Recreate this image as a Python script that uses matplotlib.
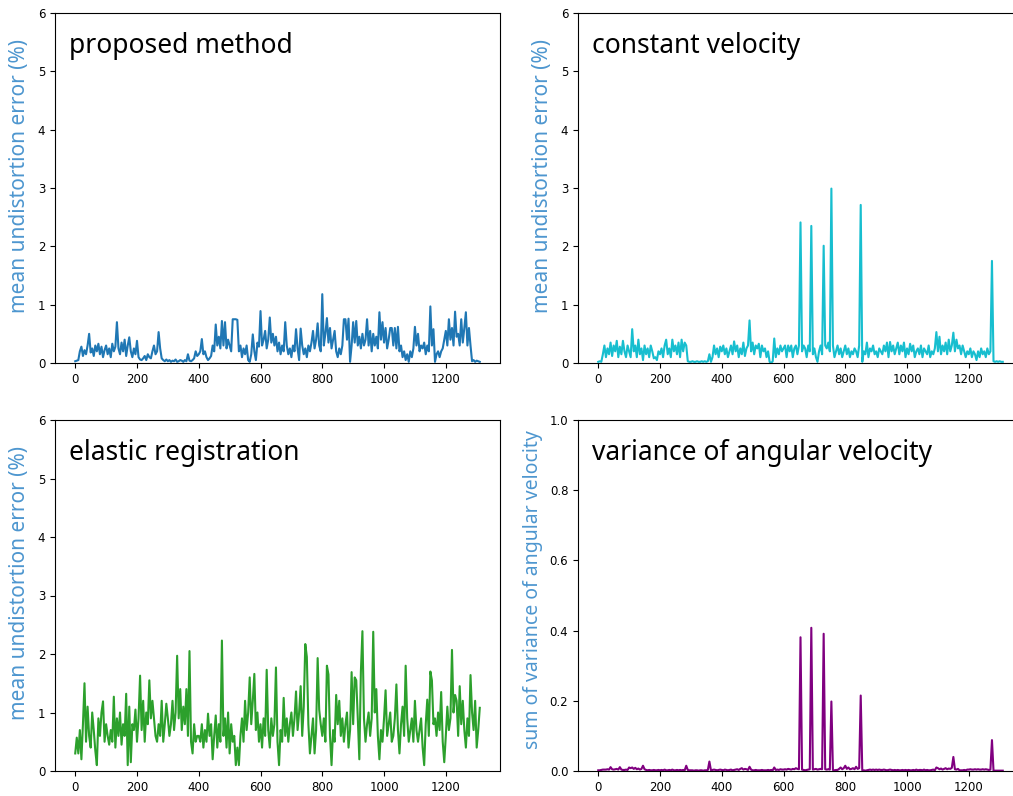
import numpy as np
import matplotlib
matplotlib.use("Agg")
import matplotlib.pyplot as plt

# ---- data (sampled every 5 frames, frame 0 .. 1310) ----
frame_step = 5

proposed_method = [
    0.03, 0.04, 0.05, 0.2, 0.28, 0.12, 0.22, 0.15, 0.3, 0.5, 0.18, 0.25, 0.12, 0.3, 0.2, 0.33, 0.15, 0.28, 0.1, 0.22,
    0.3, 0.15, 0.25, 0.1, 0.33, 0.2, 0.28, 0.7, 0.25, 0.15, 0.35, 0.2, 0.4, 0.12, 0.3, 0.44, 0.2, 0.1, 0.25, 0.15,
    0.38, 0.1, 0.06, 0.05, 0.08, 0.12, 0.05, 0.15, 0.1, 0.08, 0.2, 0.3, 0.15, 0.2, 0.53, 0.25, 0.08, 0.05, 0.03, 0.06,
    0.03, 0.05, 0.02, 0.04, 0.03, 0.06, 0.02, 0.03, 0.05, 0.04, 0.02, 0.05, 0.03, 0.15, 0.04, 0.03, 0.05, 0.08, 0.2, 0.12,
    0.15, 0.2, 0.41, 0.15, 0.2, 0.1, 0.05, 0.08, 0.12, 0.3, 0.2, 0.66, 0.3, 0.45, 0.25, 0.72, 0.3, 0.7, 0.25, 0.4,
    0.3, 0.2, 0.75, 0.75, 0.75, 0.74, 0.2, 0.3, 0.1, 0.25, 0.15, 0.3, 0.05, 0.02, 0.15, 0.49, 0.2, 0.05, 0.35, 0.28,
    0.89, 0.3, 0.4, 0.55, 0.25, 0.4, 0.78, 0.35, 0.5, 0.3, 0.45, 0.2, 0.35, 0.15, 0.3, 0.2, 0.7, 0.3, 0.15, 0.25,
    0.1, 0.3, 0.2, 0.58, 0.25, 0.05, 0.59, 0.3, 0.15, 0.25, 0.1, 0.3, 0.2, 0.35, 0.55, 0.25, 0.4, 0.68, 0.3, 0.2,
    1.18, 0.3, 0.5, 0.77, 0.35, 0.6, 0.25, 0.4, 0.55, 0.2, 0.1, 0.25, 0.15, 0.3, 0.75, 0.75, 0.4, 0.76, 0.02, 0.3,
    0.7, 0.35, 0.72, 0.3, 0.45, 0.25, 0.5, 0.3, 0.4, 0.75, 0.3, 0.55, 0.2, 0.5, 0.3, 0.45, 0.25, 0.87, 0.4, 0.7,
    0.35, 0.6, 0.25, 0.4, 0.6, 0.6, 0.3, 0.6, 0.25, 0.62, 0.2, 0.3, 0.1, 0.2, 0.05, 0.15, 0.02, 0.2, 0.1, 0.25,
    0.62, 0.3, 0.5, 0.2, 0.3, 0.25, 0.35, 0.15, 0.3, 0.2, 0.97, 0.3, 0.58, 0.02, 0.15, 0.2, 0.1, 0.2, 0.25, 0.4,
    0.55, 0.3, 0.75, 0.4, 0.6, 0.3, 0.88, 0.45, 0.5, 0.3, 0.75, 0.35, 0.6, 0.87, 0.3, 0.6, 0.3, 0.03, 0.05, 0.02,
    0.04, 0.03, 0.02,
]

constant_velocity = [
    0.02, 0.03, 0.02, 0.15, 0.3, 0.1, 0.25, 0.15, 0.35, 0.12, 0.3, 0.2, 0.38, 0.1, 0.28, 0.15, 0.38, 0.2, 0.1, 0.3,
    0.2, 0.1, 0.58, 0.2, 0.3, 0.1, 0.4, 0.15, 0.25, 0.05, 0.3, 0.15, 0.25, 0.1, 0.3, 0.2, 0.08, 0.1, 0.05, 0.2,
    0.15, 0.25, 0.1, 0.3, 0.4, 0.15, 0.25, 0.1, 0.4, 0.2, 0.3, 0.15, 0.35, 0.1, 0.4, 0.2, 0.35, 0.3, 0.03, 0.02,
    0.02, 0.03, 0.02, 0.02, 0.03, 0.02, 0.02, 0.03, 0.02, 0.03, 0.02, 0.03, 0.15, 0.02, 0.1, 0.3, 0.15, 0.25, 0.1, 0.28,
    0.2, 0.3, 0.15, 0.25, 0.1, 0.2, 0.3, 0.15, 0.37, 0.2, 0.3, 0.1, 0.25, 0.15, 0.35, 0.12, 0.25, 0.3, 0.73, 0.2,
    0.35, 0.15, 0.3, 0.25, 0.33, 0.1, 0.3, 0.2, 0.25, 0.1, 0.2, 0.02, 0.0, 0.03, 0.42, 0.1, 0.25, 0.15, 0.3, 0.2,
    0.25, 0.3, 0.1, 0.3, 0.2, 0.3, 0.1, 0.25, 0.3, 0.15, 0.3, 2.41, 0.2, 0.3, 0.25, 0.1, 0.3, 0.2, 2.35, 0.15,
    0.25, 0.1, 0.02, 0.2, 0.3, 0.15, 2.01, 0.3, 0.25, 0.35, 0.2, 2.99, 0.3, 0.1, 0.2, 0.3, 0.15, 0.25, 0.1, 0.2,
    0.3, 0.15, 0.25, 0.1, 0.2, 0.15, 0.25, 0.2, 0.1, 0.3, 2.71, 0.02, 0.2, 0.15, 0.35, 0.1, 0.25, 0.2, 0.3, 0.15,
    0.2, 0.1, 0.25, 0.2, 0.15, 0.3, 0.2, 0.35, 0.1, 0.36, 0.2, 0.3, 0.15, 0.25, 0.35, 0.15, 0.3, 0.2, 0.35, 0.1,
    0.25, 0.15, 0.33, 0.2, 0.3, 0.1, 0.2, 0.25, 0.15, 0.3, 0.1, 0.25, 0.2, 0.15, 0.3, 0.1, 0.2, 0.15, 0.25, 0.53,
    0.2, 0.45, 0.15, 0.3, 0.2, 0.35, 0.15, 0.4, 0.2, 0.3, 0.52, 0.2, 0.4, 0.25, 0.3, 0.15, 0.3, 0.2, 0.1, 0.2,
    0.15, 0.25, 0.1, 0.2, 0.15, 0.05, 0.2, 0.1, 0.25, 0.15, 0.2, 0.1, 0.25, 0.15, 0.2, 1.75, 0.03, 0.02, 0.03, 0.02,
    0.03, 0.02, 0.02,
]

elastic_registration = [
    0.3, 0.57, 0.3, 0.7, 0.2, 0.8, 1.5, 0.5, 1.1, 0.6, 0.4, 1.0, 0.7, 0.35, 0.1, 0.9, 0.6, 1.0, 1.19, 0.5,
    0.8, 0.6, 0.45, 0.7, 0.5, 1.27, 0.4, 0.9, 0.6, 1.0, 0.45, 0.8, 0.6, 1.32, 0.1, 1.1, 0.15, 0.8, 0.7, 1.05,
    0.5, 0.9, 1.63, 0.7, 1.2, 0.5, 1.0, 0.8, 1.55, 0.9, 1.2, 0.9, 0.6, 0.5, 0.8, 0.6, 1.2, 0.5, 0.8, 1.15,
    0.9, 0.6, 0.8, 1.2, 0.7, 1.0, 1.97, 0.9, 1.4, 0.7, 1.1, 0.8, 1.4, 0.6, 2.05, 0.5, 0.3, 0.8, 0.5, 0.6,
    0.6, 0.5, 0.8, 0.4, 0.7, 0.5, 0.98, 0.6, 0.8, 0.2, 0.6, 0.95, 0.4, 0.8, 0.5, 2.23, 0.6, 0.9, 0.4, 1.0,
    0.3, 0.8, 0.5, 0.6, 0.1, 0.4, 0.1, 0.6, 0.9, 0.5, 1.2, 0.7, 1.0, 1.6, 0.8, 1.2, 1.66, 0.7, 1.0, 0.5,
    0.8, 0.4, 0.9, 0.6, 1.73, 0.7, 0.4, 0.9, 0.6, 0.8, 1.77, 0.5, 0.1, 0.7, 0.5, 1.25, 0.6, 0.9, 0.5, 0.8,
    1.0, 0.6, 0.9, 1.36, 0.7, 1.0, 1.45, 0.6, 1.1, 2.17, 1.95, 0.8, 0.3, 0.6, 0.9, 0.3, 0.7, 1.93, 1.05, 0.8,
    0.6, 0.9, 0.5, 1.8, 1.65, 0.6, 0.1, 0.7, 0.5, 1.3, 0.8, 1.2, 0.6, 0.9, 0.5, 0.8, 1.0, 0.4, 0.7, 1.69,
    0.8, 1.6, 1.55, 0.9, 0.2, 1.7, 2.39, 0.9, 0.5, 0.8, 1.0, 0.6, 0.9, 2.38, 1.0, 1.4, 0.6, 0.2, 0.7, 0.5,
    0.9, 1.38, 0.6, 0.8, 1.0, 0.5, 0.6, 0.9, 1.48, 0.7, 0.3, 0.8, 1.1, 0.6, 1.8, 0.9, 0.5, 0.7, 0.9, 0.5,
    1.2, 0.7, 0.5, 0.7, 0.9, 0.4, 0.1, 0.8, 1.22, 0.6, 1.7, 1.55, 0.8, 0.9, 0.6, 1.0, 0.7, 1.35, 0.5, 0.15,
    0.6, 1.1, 0.7, 0.9, 2.07, 1.0, 1.3, 1.2, 0.6, 1.45, 0.8, 1.2, 0.7, 0.4, 0.9, 0.6, 1.64, 1.0, 0.7, 1.2,
    0.4, 0.7, 1.08,
]

angular_velocity_variance = [
    0.002, 0.002, 0.003, 0.004, 0.004, 0.004, 0.005, 0.004, 0.011, 0.005, 0.004, 0.005, 0.006, 0.004, 0.011, 0.004, 0.003, 0.003, 0.004, 0.003,
    0.01, 0.008, 0.01, 0.006, 0.009, 0.005, 0.007, 0.004, 0.006, 0.015, 0.005, 0.003, 0.002, 0.003, 0.002, 0.002, 0.003, 0.002, 0.002, 0.003,
    0.002, 0.003, 0.002, 0.004, 0.002, 0.002, 0.003, 0.002, 0.004, 0.002, 0.002, 0.003, 0.002, 0.003, 0.002, 0.003, 0.002, 0.015, 0.003, 0.002,
    0.002, 0.002, 0.001, 0.002, 0.002, 0.001, 0.002, 0.002, 0.001, 0.002, 0.002, 0.003, 0.027, 0.002, 0.003, 0.004, 0.003, 0.002, 0.003, 0.004,
    0.003, 0.002, 0.004, 0.003, 0.002, 0.003, 0.004, 0.002, 0.003, 0.004, 0.005, 0.003, 0.006, 0.008, 0.004, 0.006, 0.005, 0.003, 0.012, 0.004,
    0.002, 0.002, 0.003, 0.002, 0.002, 0.002, 0.003, 0.002, 0.002, 0.002, 0.003, 0.002, 0.003, 0.002, 0.01, 0.003, 0.004, 0.003, 0.005, 0.004,
    0.004, 0.005, 0.004, 0.006, 0.005, 0.004, 0.006, 0.005, 0.008, 0.006, 0.005, 0.381, 0.004, 0.003, 0.002, 0.003, 0.004, 0.005, 0.408, 0.004,
    0.005, 0.006, 0.004, 0.005, 0.006, 0.005, 0.391, 0.005, 0.004, 0.005, 0.004, 0.198, 0.003, 0.002, 0.003, 0.003, 0.006, 0.01, 0.005, 0.008,
    0.015, 0.006, 0.01, 0.005, 0.006, 0.008, 0.005, 0.012, 0.006, 0.008, 0.215, 0.002, 0.002, 0.001, 0.002, 0.003, 0.004, 0.003, 0.004, 0.003,
    0.004, 0.003, 0.004, 0.003, 0.003, 0.004, 0.003, 0.002, 0.003, 0.004, 0.003, 0.002, 0.003, 0.002, 0.003, 0.002, 0.002, 0.003, 0.002, 0.003,
    0.002, 0.003, 0.002, 0.002, 0.003, 0.002, 0.004, 0.002, 0.003, 0.003, 0.002, 0.004, 0.002, 0.003, 0.002, 0.002, 0.003, 0.004, 0.002, 0.01,
    0.008, 0.005, 0.007, 0.004, 0.006, 0.008, 0.005, 0.007, 0.006, 0.009, 0.04, 0.005, 0.004, 0.006, 0.002, 0.002, 0.002, 0.003, 0.002, 0.004,
    0.004, 0.005, 0.004, 0.004, 0.005, 0.004, 0.005, 0.004, 0.004, 0.005, 0.004, 0.005, 0.004, 0.003, 0.004, 0.088, 0.001, 0.001, 0.001, 0.001,
    0.001, 0.001, 0.001,
]

titles = ["proposed method", "constant velocity", "elastic registration", "variance of angular velocity"]
ylabels = ["mean undistortion error (%)", "mean undistortion error (%)",
           "mean undistortion error (%)", "sum of variance of angular velocity"]
series = [proposed_method, constant_velocity, elastic_registration, angular_velocity_variance]
colors = ["#1f77b4", "#17becf", "#2ca02c", "#800080"]
ylims = [(0, 6), (0, 6), (0, 6), (0, 1.0)]
xticks = [0, 200, 400, 600, 800, 1000, 1200]

W, H = 1013, 796
fig = plt.figure(figsize=(W / 100, H / 100), dpi=100)

# axes boxes in pixels: left, top, right, bottom
boxes = [(55, 13, 500, 363), (578, 13, 1023, 363),
         (55, 420, 500, 771), (578, 420, 1023, 771)]

label_color = "#4d96cf"

for i in range(4):
    l, t, r, b = boxes[i]
    ax = fig.add_axes([l / W, 1 - b / H, (r - l) / W, (b - t) / H])
    y = np.array(series[i])
    x = np.arange(len(y)) * frame_step
    ax.plot(x, y, color=colors[i], lw=1.5)
    ax.set_ylim(*ylims[i])
    ax.set_xticks(xticks)
    if i == 3:
        ax.set_yticks([0, 0.2, 0.4, 0.6, 0.8, 1.0])
    ax.tick_params(labelsize=8.5)
    fs = 15 if i < 3 else 14
    ax.set_ylabel(ylabels[i], color=label_color, fontsize=fs, family="Noto Sans")
    ax.yaxis.label.set_va("center")
    if i < 3:
        ax.yaxis.set_label_coords(-0.079, 0.535)
    else:
        ax.yaxis.set_label_coords(-0.101, 0.516)
    ax.text(0.031, 0.886, titles[i], transform=ax.transAxes, fontsize=19,
            family="Noto Sans", va="baseline", ha="left", color="black")

fig.savefig("out.png", dpi=100)
